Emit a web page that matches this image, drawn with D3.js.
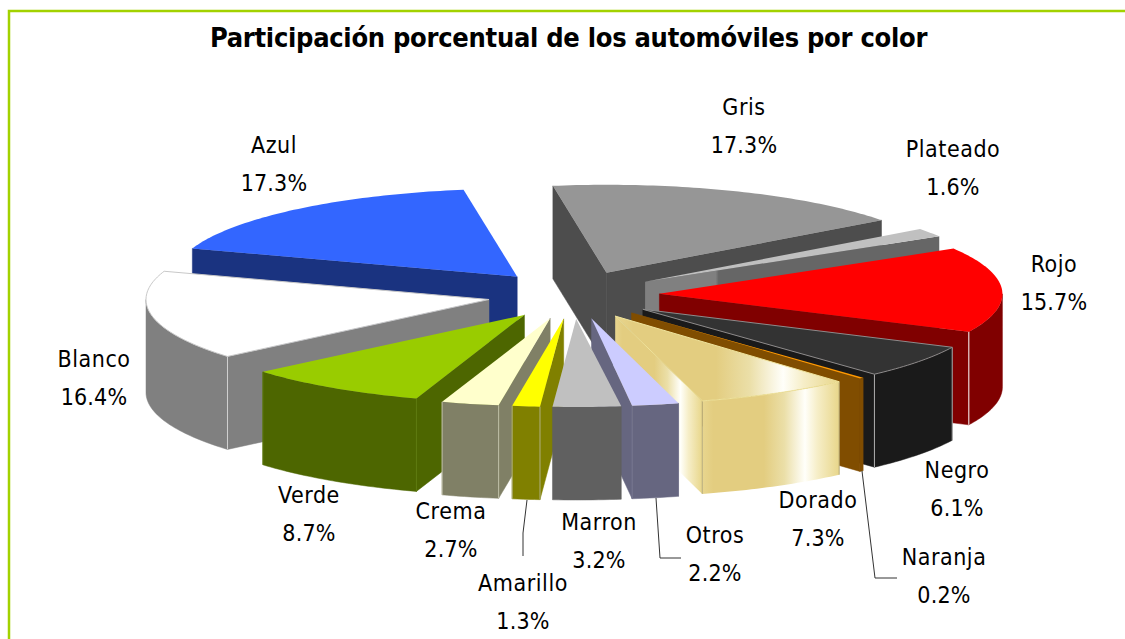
<!DOCTYPE html>
<html><head><meta charset="utf-8">
<script src="https://cdnjs.cloudflare.com/ajax/libs/d3/7.8.5/d3.min.js"></script>
<style>
html,body{margin:0;padding:0;background:#fff;overflow:hidden}
svg{display:block}
text{font-family:"DejaVu Sans Condensed","DejaVu Sans",sans-serif;fill:#000}
</style></head><body><svg id="c" width="1125" height="639"></svg>
<script>
// ---- data ----
const title = "Participación porcentual de los automóviles por color";
const categories = ["Gris","Plateado","Rojo","Negro","Naranja","Dorado","Otros","Marron","Amarillo","Crema","Verde","Blanco","Azul"];
const shares = [17.3,1.6,15.7,6.1,0.2,7.3,2.2,3.2,1.3,2.7,8.7,16.4,17.3];
const shareLabels = ["17.3%","1.6%","15.7%","6.1%","0.2%","7.3%","2.2%","3.2%","1.3%","2.7%","8.7%","16.4%","17.3%"];
// ---- styles ----
const topColors  = ["#969696","#c0c0c0","#ff0000","#333333","#ff9900","url(#gold)","#ccccff","#c0c0c0","#ffff00","#ffffcc","#99cc00","#ffffff","#3366ff"];
const wallColors = ["#4d4d4d","url(#silver)","#800000","#1a1a1a","#804d00","url(#gold)","#666680","#606060","#808000","#808066","#4d6600","#808080","#1a3380"];
const topStrokes = [null,null,null,"#8c8c8c",null,"#efe39c",null,null,null,null,null,"#c8c8c8",null];
const edgeColors = ["#5c5c5c",null,"#ffffff","#b0b0b0",null,"#b5ab7a","#77778f",null,"#b0b080","#c0c0a8","#5f7a10","#d0d0d0",null];
// ---- layout ----
const cx=574.5, cy=295, rx=343, ry=88, depth=93, explodeX=85, explodeY=24;
const startDeg=-9;
// small horizontal corrections for the original's perspective, per slice
const sliceShift=[0,0,0,0,0,0,0,-1,-1.5,-4.5,-2.5,-2,-2.5];
const rimShift  =[0,0,0,0,0,-4.5,-4.5,0,0,0,0,0,0];
const labelPos=[[744,107],[953,149],[1054,264],[957,470],[944,557],[818,500],[715,535],[599,522],[523,583],[451,511],[309,495],[94,359],[274,145]];
const lineGap=38;
const leaders={Amarillo:[[527,500],[523,533],[523,556]],Otros:[[656,498],[660,558],[681,558]],Naranja:[[862,471],[875,578],[897,578]]};

const svg=d3.select("#c");
const defs=svg.append("defs");
const gold=defs.append("linearGradient").attr("id","gold");
[[0,"#e8d68f"],[.08,"#e3cd80"],[.45,"#e3cd80"],[.6,"#ebdfa8"],[.68,"#f6f0d4"],[.75,"#fffffa"],[.84,"#f6eec8"],[1,"#e8d68a"]]
 .forEach(s=>gold.append("stop").attr("offset",s[0]).attr("stop-color",s[1]));
const silver=defs.append("linearGradient").attr("id","silver");
[[0,"#808080"],[.24,"#808080"],[.25,"#666666"],[1,"#666666"]]
 .forEach(s=>silver.append("stop").attr("offset",s[0]).attr("stop-color",s[1]));

// frame
svg.append("path").attr("d","M9,639V11H1125").attr("fill","none").attr("stroke","#a2d200").attr("stroke-width",2.5);

const rad=Math.PI/180;
const pie=d3.pie().sort(null).startAngle(startDeg*rad).endAngle((startDeg+360)*rad);
const arcs=pie(shares).map((d,i)=>{
  const mid=(d.startAngle+d.endAngle)/2;
  return {i,a0:d.startAngle,a1:d.endAngle,mid,
    ax:cx+explodeX*Math.sin(mid)+sliceShift[i], ay:cy-explodeY*Math.cos(mid)};
});
const pt=(s,a,dy=0)=>[s.ax+rx*Math.sin(a)+rimShift[s.i], s.ay-ry*Math.cos(a)+dy];
const line=d3.line();
const rimAngles=(a0,a1)=>{const n=Math.max(2,Math.ceil((a1-a0)/(1*rad)));return d3.range(n+1).map(k=>a0+(a1-a0)*k/n);};

const g=svg.append("g");
const order=arcs.slice().sort((p,q)=>(-Math.cos(p.mid))-(-Math.cos(q.mid)));
order.forEach(s=>{
  const sg=g.append("g").attr("class","slice").attr("data-name",categories[s.i]);
  const fillW=wallColors[s.i];
  const apex=[s.ax,s.ay], apexB=[s.ax,s.ay+depth];
  const radial=a=>{const p=pt(s,a),q=pt(s,a,depth);
    sg.append("path").attr("d",line([apex,p,q,apexB])+"Z").attr("fill",fillW).attr("stroke",fillW==="url(#gold)"||fillW==="url(#silver)"?"none":fillW).attr("stroke-width",.5);};
  if(Math.sin(s.a0)<0) radial(s.a0);
  if(Math.sin(s.a1)>0) radial(s.a1);
  // outer wall: front half only
  const lo=Math.max(s.a0,Math.PI/2), hi=Math.min(s.a1,3*Math.PI/2);
  if(hi>lo){
    const as=rimAngles(lo,hi);
    const poly=as.map(a=>pt(s,a)).concat(as.slice().reverse().map(a=>pt(s,a,depth)));
    sg.append("path").attr("d",line(poly)+"Z").attr("fill",fillW).attr("stroke",fillW==="url(#gold)"?"none":fillW).attr("stroke-width",.5);
  }
  // vertical edges
  if(edgeColors[s.i]){
    [s.a0,s.a1].forEach(a=>{
      if(Math.cos(a)<0){
        sg.append("line").attr("x1",pt(s,a)[0]).attr("y1",pt(s,a)[1]).attr("x2",pt(s,a)[0]).attr("y2",pt(s,a,depth)[1])
          .attr("stroke",edgeColors[s.i]).attr("stroke-width",1);
      }
    });
  }
  const rim=rimAngles(s.a0,s.a1).map(a=>pt(s,a));
  sg.append("path").attr("d",line([apex].concat(rim))+"Z").attr("fill",topColors[s.i])
    .attr("stroke",topStrokes[s.i]||"none").attr("stroke-width",1);
});

// leaders
Object.keys(leaders).forEach(k=>{
  svg.append("path").attr("d",line(leaders[k])).attr("fill","none").attr("stroke","#333").attr("stroke-width",1);
});
// labels
categories.forEach((c,i)=>{
  const [x,y]=labelPos[i];
  svg.append("text").attr("x",x).attr("y",y+8).attr("text-anchor","middle").attr("font-size",23).attr("letter-spacing",.55).text(c);
  svg.append("text").attr("x",x).attr("y",y+lineGap+8).attr("text-anchor","middle").attr("font-size",23).attr("letter-spacing",.2).text(shareLabels[i]);
});
svg.append("text").attr("x",568.5).attr("y",47).attr("text-anchor","middle").attr("font-size",27).attr("font-weight","bold").attr("letter-spacing",-.28).text(title);
</script></body></html>
